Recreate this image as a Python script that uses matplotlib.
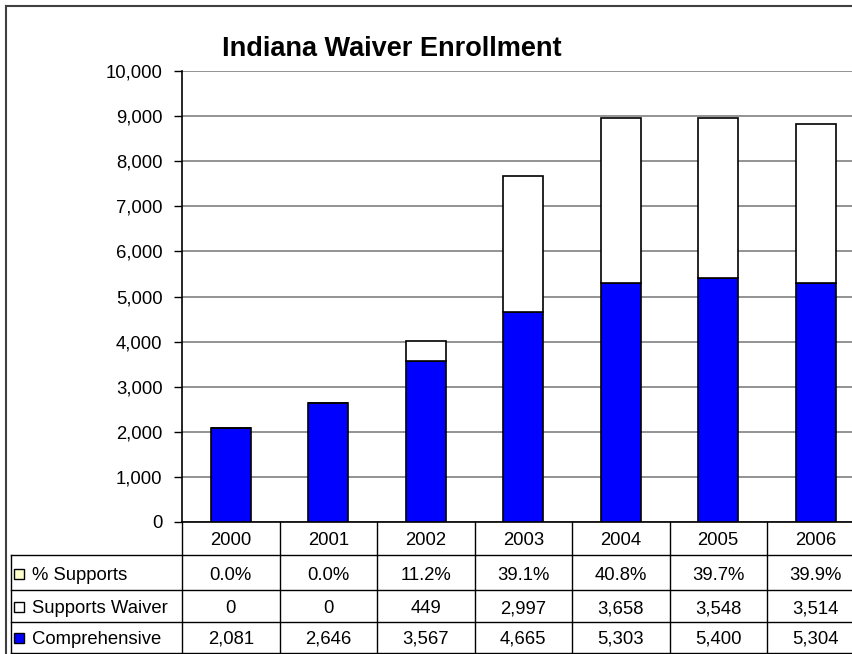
import matplotlib.pyplot as plt
from matplotlib.transforms import blended_transform_factory
import matplotlib.patches as mpatches

plt.rcParams['font.family'] = ['Liberation Sans', 'DejaVu Sans']

years = ['2000', '2001', '2002', '2003', '2004', '2005', '2006']
comprehensive = [2081, 2646, 3567, 4665, 5303, 5400, 5304]
supports_waiver = [0, 0, 449, 2997, 3658, 3548, 3514]
pct_supports = [0.0, 0.0, 11.2, 39.1, 40.8, 39.7, 39.9]

W, H = 852, 654
fs = 13.3
fig = plt.figure(figsize=(W / 100, H / 100), dpi=100)

# plot area in pixels
left, right, top, bottom = 182, 852, 71, 522
cat_w = 97.5
ax = fig.add_axes([left / W, 1 - bottom / H, (right - left) / W, (bottom - top) / H])

x = list(range(len(years)))
ax.bar(x, comprehensive, width=0.41, color='#0000FF', edgecolor='black', linewidth=1.2, zorder=3)
ax.bar(x, supports_waiver, width=0.41, bottom=comprehensive, color='white',
       edgecolor='black', linewidth=1.2, zorder=3)

ax.set_xlim(-0.5, -0.5 + (right - left) / cat_w)
ax.set_ylim(0, 10000)
ax.set_yticks(range(0, 10001, 1000))
ax.set_yticklabels(['{:,}'.format(v) for v in range(0, 10001, 1000)], fontsize=fs)
ax.yaxis.grid(True, color='#808080', linewidth=1.2, zorder=0)
ax.tick_params(axis='y', length=6, width=1, color='black', pad=8)
ax.set_xticks([])
for s in ['top', 'right']:
    ax.spines[s].set_visible(False)
ax.spines['left'].set_linewidth(1.2)
ax.spines['bottom'].set_linewidth(1.2)

fig.text(392 / W, 1 - 56 / H, 'Indiana Waiver Enrollment', fontsize=19.5, fontweight='bold',
         ha='center', va='baseline')

# outer frame
fig.add_artist(plt.Line2D([6 / W, 6 / W], [0, 1 - 6 / H], transform=fig.transFigure,
                          color='#404040', lw=1.5))
fig.add_artist(plt.Line2D([6 / W, 1], [1 - 6 / H, 1 - 6 / H], transform=fig.transFigure,
                          color='#404040', lw=1.5))

# data table below the plot
tr = blended_transform_factory(ax.transData, fig.transFigure)


def fy(p):
    return 1 - p / H


row_lines = [555, 590, 622, 653]
for p in row_lines:
    fig.add_artist(plt.Line2D([11 / W, 1], [fy(p), fy(p)], transform=fig.transFigure,
                              color='black', lw=1))
fig.add_artist(plt.Line2D([11 / W, 11 / W], [fy(555), fy(653)], transform=fig.transFigure,
                          color='black', lw=1))
fig.add_artist(plt.Line2D([left / W, left / W], [fy(522), fy(653)], transform=fig.transFigure,
                          color='black', lw=1))
for i in range(1, len(years)):
    fig.add_artist(plt.Line2D([i - 0.5, i - 0.5], [fy(522), fy(653)], transform=tr,
                              color='black', lw=1))

# text baselines (pixels from top)
year_base = 545
row_base = [580, 613, 644]
for i, yr in enumerate(years):
    fig.text(i, fy(year_base), yr, transform=tr, ha='center', va='baseline', fontsize=fs)
    fig.text(i, fy(row_base[0]), '{:.1f}%'.format(pct_supports[i]), transform=tr,
             ha='center', va='baseline', fontsize=fs)
    fig.text(i, fy(row_base[1]), '{:,}'.format(supports_waiver[i]), transform=tr,
             ha='center', va='baseline', fontsize=fs)
    fig.text(i, fy(row_base[2]), '{:,}'.format(comprehensive[i]), transform=tr,
             ha='center', va='baseline', fontsize=fs)

labels = ['% Supports', 'Supports Waiver', 'Comprehensive']
keys = ['#FFFFCC', 'white', '#0000FF']
for lab, col, b in zip(labels, keys, row_base):
    fig.add_artist(mpatches.Rectangle((14 / W, fy(b - 1)), 10 / W, 10 / H,
                                      transform=fig.transFigure, facecolor=col,
                                      edgecolor='black', lw=1))
    fig.text(32 / W, fy(b), lab, ha='left', va='baseline', fontsize=fs)

fig.savefig('out.png', dpi=100)
